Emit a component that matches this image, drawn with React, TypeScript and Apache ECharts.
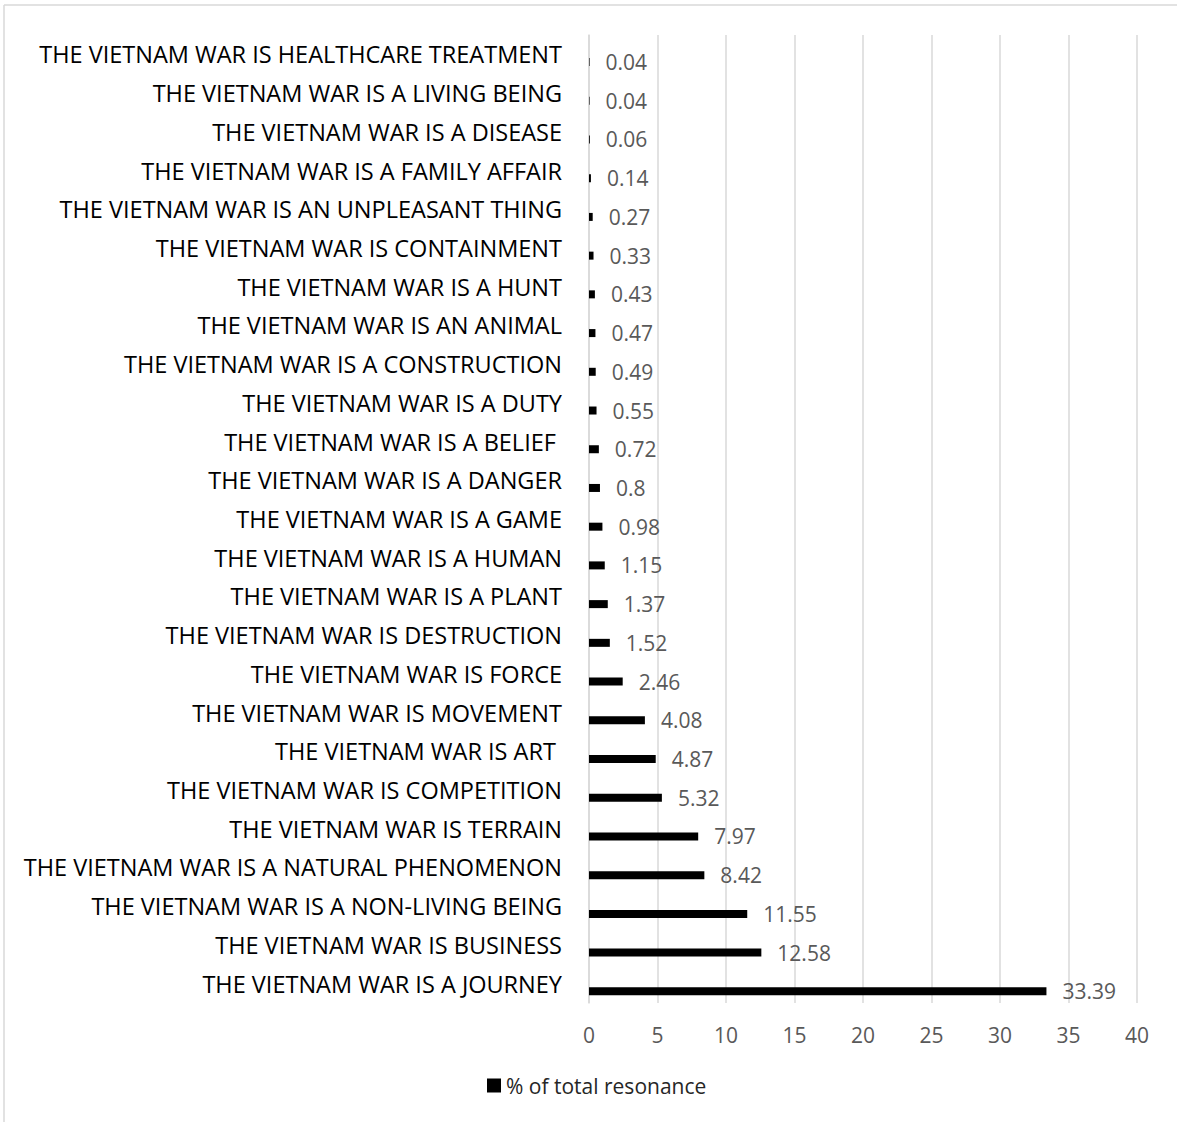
import React, { useEffect, useRef } from "react";
import * as echarts from "echarts";

const categories: string[] = [
  "THE VIETNAM WAR IS A JOURNEY",
  "THE VIETNAM WAR IS BUSINESS",
  "THE VIETNAM WAR IS A NON-LIVING BEING",
  "THE VIETNAM WAR IS A NATURAL PHENOMENON",
  "THE VIETNAM WAR IS TERRAIN",
  "THE VIETNAM WAR IS COMPETITION",
  "THE VIETNAM WAR IS ART ",
  "THE VIETNAM WAR IS MOVEMENT",
  "THE VIETNAM WAR IS FORCE",
  "THE VIETNAM WAR IS DESTRUCTION",
  "THE VIETNAM WAR IS A PLANT",
  "THE VIETNAM WAR IS A HUMAN",
  "THE VIETNAM WAR IS A GAME",
  "THE VIETNAM WAR IS A DANGER",
  "THE VIETNAM WAR IS A BELIEF ",
  "THE VIETNAM WAR IS A DUTY",
  "THE VIETNAM WAR IS A CONSTRUCTION",
  "THE VIETNAM WAR IS AN ANIMAL",
  "THE VIETNAM WAR IS A HUNT",
  "THE VIETNAM WAR IS CONTAINMENT",
  "THE VIETNAM WAR IS AN UNPLEASANT THING",
  "THE VIETNAM WAR IS A FAMILY AFFAIR",
  "THE VIETNAM WAR IS A DISEASE",
  "THE VIETNAM WAR IS A LIVING BEING",
  "THE VIETNAM WAR IS HEALTHCARE TREATMENT",
];

const resonance: number[] = [
  33.39, 12.58, 11.55, 8.42, 7.97, 5.32, 4.87, 4.08, 2.46, 1.52, 1.37, 1.15,
  0.98, 0.8, 0.72, 0.55, 0.49, 0.47, 0.43, 0.33, 0.27, 0.14, 0.06, 0.04, 0.04,
];

const seriesName = "% of total resonance";
const xMin = 0;
const xMax = 40;
const xInterval = 5;

const FONT = "Open Sans";

export default function App() {
  const ref = useRef<HTMLDivElement>(null);
  useEffect(() => {
    document.body.style.margin = "0";
    if (!ref.current) return;
    const chart = echarts.init(ref.current, undefined, { renderer: "svg" });
    chart.setOption({
      animation: false,
      backgroundColor: "#ffffff",
      textStyle: { fontFamily: FONT },
      grid: { left: 589, right: 40, top: 35, bottom: 119, containLabel: false },
      graphic: [
        {
          type: "line",
          shape: { x1: 4, y1: 5, x2: 4, y2: 1122 },
          style: { stroke: "#d9d9d9", lineWidth: 1.5 },
        },
        {
          type: "line",
          shape: { x1: 4, y1: 5, x2: 1177, y2: 5 },
          style: { stroke: "#d9d9d9", lineWidth: 1.5 },
        },
      ],
      legend: {
        data: [seriesName],
        top: 1070,
        left: 482,
        icon: "rect",
        itemWidth: 14,
        itemHeight: 14,
        itemGap: 6,
        textStyle: { fontFamily: FONT, fontSize: 21, color: "#262626" },
      },
      xAxis: {
        type: "value",
        min: xMin,
        max: xMax,
        interval: xInterval,
        axisLine: { show: false },
        axisTick: { show: false },
        splitLine: { show: true, lineStyle: { color: "#d9d9d9", width: 1.5 } },
        axisLabel: {
          margin: 21,
          fontFamily: FONT,
          fontSize: 21,
          color: "#595959",
        },
      },
      yAxis: {
        type: "category",
        data: categories,
        axisLine: { show: true, lineStyle: { color: "#d9d9d9", width: 1.5 } },
        axisTick: { show: false },
        axisLabel: {
          margin: 27,
          fontFamily: FONT,
          fontSize: 23.5,
          color: "#000000",
        },
      },
      series: [
        {
          name: "spacer",
          type: "bar",
          barWidth: 8,
          barGap: "92%",
          data: categories.map(() => "-"),
          silent: true,
        },
        {
          name: seriesName,
          type: "bar",
          barWidth: 8,
          barGap: "92%",
          data: resonance,
          itemStyle: { color: "#000000" },
          label: {
            show: true,
            position: "right",
            distance: 16,
            fontFamily: FONT,
            fontSize: 21,
            color: "#595959",
          },
        },
      ],
    });
    return () => chart.dispose();
  }, []);
  return <div ref={ref} style={{ width: 1177, height: 1122 }} />;
}
